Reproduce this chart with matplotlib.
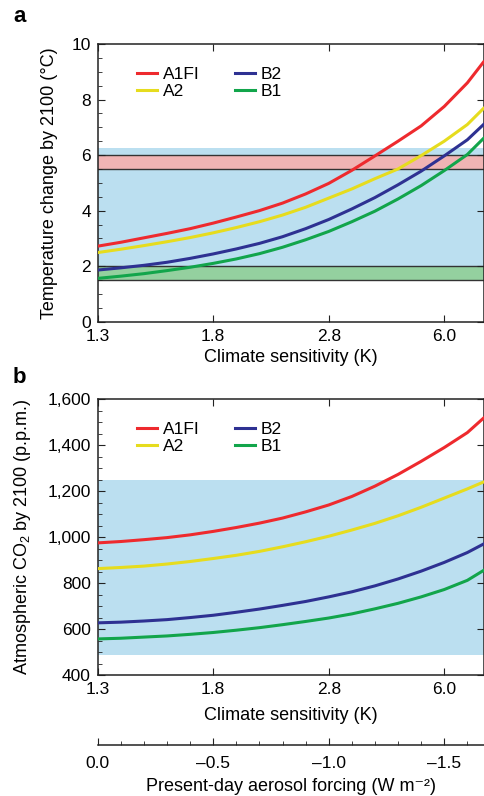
import matplotlib
matplotlib.use("Agg")
import matplotlib.pyplot as plt
from matplotlib.ticker import MultipleLocator, FixedLocator, FuncFormatter

plt.rcParams["font.family"] = ["Liberation Sans", "DejaVu Sans"]
plt.rcParams["mathtext.fontset"] = "custom"
plt.rcParams["mathtext.rm"] = "Liberation Sans"

# present-day aerosol forcing (W m-2) on the shared x axis
forcing = [0.0, -0.1, -0.2, -0.3, -0.4, -0.5, -0.6, -0.7, -0.8, -0.9,
           -1.0, -1.1, -1.2, -1.3, -1.4, -1.5, -1.6, -1.67]
sens_ticks = [0.0, -0.5, -1.0, -1.5]
sens_labels = ["1.3", "1.8", "2.8", "6.0"]

scenarios = ["A1FI", "A2", "B2", "B1"]
colors = ["#ee2a2e", "#e6dc1e", "#2e3192", "#12a54b"]

# panel a: temperature change by 2100 (C)
temp_a1fi = [2.72, 2.86, 3.02, 3.18, 3.35, 3.55, 3.77, 4.00, 4.27, 4.60,
             4.98, 5.45, 5.97, 6.50, 7.05, 7.75, 8.60, 9.35]
temp_a2 = [2.49, 2.61, 2.74, 2.88, 3.03, 3.20, 3.39, 3.60, 3.84, 4.12,
           4.45, 4.78, 5.15, 5.50, 5.98, 6.50, 7.10, 7.68]
temp_b2 = [1.86, 1.94, 2.03, 2.14, 2.28, 2.44, 2.62, 2.82, 3.06, 3.35,
           3.68, 4.06, 4.47, 4.93, 5.42, 5.97, 6.55, 7.10]
temp_b1 = [1.56, 1.64, 1.73, 1.84, 1.96, 2.10, 2.26, 2.45, 2.68, 2.95,
           3.25, 3.60, 3.98, 4.42, 4.90, 5.44, 6.02, 6.60]

# panel b: atmospheric CO2 by 2100 (p.p.m.)
co2_a1fi = [975, 981, 989, 998, 1010, 1025, 1042, 1061, 1083, 1110,
            1140, 1177, 1222, 1273, 1330, 1390, 1455, 1518]
co2_a2 = [863, 868, 874, 883, 894, 907, 921, 938, 958, 980,
          1004, 1031, 1060, 1093, 1130, 1170, 1210, 1240]
co2_b2 = [627, 630, 635, 641, 650, 660, 673, 687, 703, 720,
          740, 762, 788, 818, 852, 890, 933, 970]
co2_b1 = [557, 560, 565, 570, 577, 585, 595, 606, 619, 633,
          648, 666, 688, 712, 740, 772, 812, 855]

W, H = 484, 796
fig = plt.figure(figsize=(W / 100, H / 100), dpi=100)
fig.patch.set_facecolor("white")

x0, x1 = 97.7, 483.5
TICK_FS = 12.5
LABEL_FS = 13


def make_axes(top, bottom):
    return fig.add_axes([x0 / W, 1 - bottom / H, (x1 - x0) / W, (bottom - top) / H])


def style(ax):
    for s in ax.spines.values():
        s.set_linewidth(1.1)
        s.set_color("#222222")
    ax.set_xlim(0, -1.67)
    ax.xaxis.set_major_locator(FixedLocator(sens_ticks))
    ax.set_xticklabels(sens_labels)
    ax.tick_params(which="both", direction="in", top=True, right=True,
                   labelsize=TICK_FS, color="#222222", pad=5)
    ax.tick_params(which="major", length=5)
    ax.tick_params(which="minor", length=3, right=False)


ax_a = make_axes(44, 321.7)
ax_b = make_axes(399.3, 675)

# panel a
ax_a.axhspan(2.0, 6.25, color="#bbdff0", lw=0, zorder=0)
ax_a.axhspan(5.5, 6.0, color="#f0b4b4", lw=0, zorder=0.5)
ax_a.axhspan(1.5, 2.0, color="#94d09f", lw=0, zorder=0.5)
for yv in [1.5, 2.0, 5.5, 6.0]:
    ax_a.axhline(yv, color="#333333", lw=1.0, zorder=1)
temps = [temp_a1fi, temp_a2, temp_b2, temp_b1]
for name, c, t in zip(scenarios, colors, temps):
    ax_a.plot(forcing, t, color=c, lw=2.2, label=name, zorder=3)
ax_a.set_ylim(0, 10)
ax_a.yaxis.set_major_locator(MultipleLocator(2))
ax_a.yaxis.set_minor_locator(MultipleLocator(0.5))
style(ax_a)
ax_a.set_ylabel("Temperature change by 2100 (\u00b0C)", fontsize=LABEL_FS)
ax_a.yaxis.set_label_coords((58 - x0) / (x1 - x0), 0.5)
ax_a.set_xlabel("Climate sensitivity (K)", fontsize=LABEL_FS)
ax_a.xaxis.set_label_coords(0.5, -0.1)

# panel b
ax_b.axhspan(485, 1250, color="#bbdff0", lw=0, zorder=0)
co2s = [co2_a1fi, co2_a2, co2_b2, co2_b1]
for name, c, v in zip(scenarios, colors, co2s):
    ax_b.plot(forcing, v, color=c, lw=2.2, label=name, zorder=3)
ax_b.set_ylim(400, 1600)
ax_b.yaxis.set_major_locator(MultipleLocator(200))
ax_b.yaxis.set_minor_locator(MultipleLocator(50))
ax_b.yaxis.set_major_formatter(FuncFormatter(lambda v, p: f"{v:,.0f}"))
style(ax_b)
ax_b.set_ylabel(r"Atmospheric CO$_\mathregular{2}$ by 2100 (p.p.m.)", fontsize=LABEL_FS)
ax_b.yaxis.set_label_coords((33 - x0) / (x1 - x0), 0.5)
ax_b.set_xlabel("Climate sensitivity (K)", fontsize=LABEL_FS)
ax_b.xaxis.set_label_coords(0.5, -0.115)

for ax in (ax_a, ax_b):
    ax.legend(loc="upper left", bbox_to_anchor=(0.102, 0.917), ncol=2,
              frameon=False, fontsize=12.5, handlelength=1.15,
              handletextpad=0.35, columnspacing=2.0, labelspacing=0.08,
              borderpad=0, borderaxespad=0)

# aerosol forcing axis
ax_f = fig.add_axes([x0 / W, 1 - 745 / H, (x1 - x0) / W, 0.001])
ax_f.set_facecolor("none")
for k in ["top", "left", "right"]:
    ax_f.spines[k].set_visible(False)
ax_f.spines["bottom"].set_linewidth(1.1)
ax_f.spines["bottom"].set_color("#222222")
ax_f.set_xlim(0, -1.67)
ax_f.set_yticks([])
ax_f.xaxis.set_major_locator(FixedLocator(sens_ticks))
ax_f.xaxis.set_minor_locator(MultipleLocator(0.1))
ax_f.xaxis.set_major_formatter(
    FuncFormatter(lambda v, p: f"{abs(v):.1f}" if v == 0 else f"\u2013{abs(v):.1f}"))
ax_f.tick_params(which="both", direction="in", labelsize=TICK_FS, color="#222222", pad=8)
ax_f.tick_params(which="major", length=5)
ax_f.tick_params(which="minor", length=3)
ax_f.set_xlabel("Present-day aerosol forcing (W m\u207b\u00b2)", fontsize=LABEL_FS, labelpad=5)

fig.text(13 / W, 1 - 22 / H, "a", fontsize=16, fontweight="bold", va="baseline")
fig.text(13 / W, 1 - 383 / H, "b", fontsize=16, fontweight="bold", va="baseline")

fig.savefig("out.png", dpi=100)
